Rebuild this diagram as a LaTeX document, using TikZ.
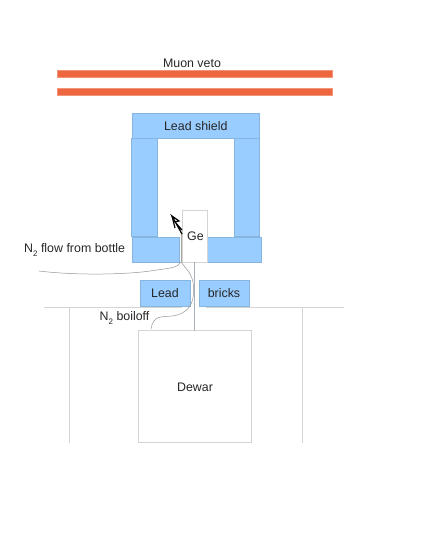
\documentclass[tikz,border=0pt]{standalone}
\usepackage{fontspec}
\setmainfont{Liberation Sans}
\usetikzlibrary{arrows.meta}
\definecolor{vetoc}{HTML}{EE6640}
\definecolor{leadc}{HTML}{99CCFF}
\definecolor{leade}{HTML}{88B4E0}
\definecolor{greyl}{HTML}{D4D4D4}
\definecolor{pipec}{HTML}{A8B0BC}
\tikzset{
  veto/.style={fill=vetoc,draw=vetoc!70!white,line width=.3pt,inner sep=0pt,outer sep=0pt},
  lead/.style={fill=leadc,draw=leade,line width=.5pt,inner sep=0pt,outer sep=0pt},
  plain/.style={draw=greyl,line width=.7pt,fill=white,inner sep=0pt,outer sep=0pt},
  lab/.style={font=\fontsize{12.4}{14}\selectfont,text=black!85,inner sep=0pt},
  wall/.style={draw=greyl,line width=.7pt},
  hose/.style={draw=black!42,line width=.5pt}
}
\begin{document}
\begin{tikzpicture}[x=1pt,y=-1pt]
\useasboundingbox (0,0) rectangle (425,550);
% veto
\node[veto,minimum width=275pt,minimum height=7pt] (v1) at (194.5,73.5) {};
\node[veto,minimum width=275pt,minimum height=7pt] (v2) at (194.5,91.2) {};
\node[lab] (vl) at (192,63) {Muon veto};
% shield
\node[lead,minimum width=25.5pt,minimum height=98pt] (sl) at (144.3,187) {};
\node[lead,minimum width=25pt,minimum height=98pt] (sr) at (246.5,187) {};
\node[lead,minimum width=127.5pt,minimum height=25pt] (st) at (195.8,125.5) {};
\node[lab] at (195.8,126.3) {Lead shield};
\node[lead,minimum width=47pt,minimum height=25pt] (bl) at (155.5,249.5) {};
\node[lead,minimum width=54.5pt,minimum height=25pt] (br) at (234.2,249.5) {};
% Ge
\node[plain,minimum width=25pt,minimum height=51.5pt] (ge) at (194.5,236.5) {};
\node[lab] at (195.5,236) {Ge};
% bricks
\node[lead,minimum width=50pt,minimum height=26pt] (lk) at (165,293) {};
\node[lab] at (165,293.3) {Lead};
\node[lead,minimum width=50pt,minimum height=26pt] (bk) at (224,293) {};
\node[lab] at (224,293.3) {bricks};
% dewar
\node[plain,minimum width=113pt,minimum height=112pt] (dw) at (195,386.5) {};
\node[lab] at (195,387) {Dewar};
\draw[pipec,line width=.7pt] (ge.south) -- (ge.south |- dw.north);
% floor
\coordinate (f1) at (44,307);
\coordinate (f2) at (182,307);
\coordinate (f3) at (206,307);
\coordinate (f4) at (344,307);
\draw[wall] (f1) -- (f2);
\draw[wall] (f3) -- (f4);
\coordinate (w1) at (69.5,307);
\coordinate (w1b) at (69.5,443);
\coordinate (w2) at (302,307);
\coordinate (w2b) at (302,443);
\draw[wall] (w1) -- (w1b);
\draw[wall] (w2) -- (w2b);
% labels
\node[lab,anchor=west] (nf) at (24,250.5) {N\raisebox{-4pt}{\fontsize{8}{9}\selectfont 2} flow from bottle};
\node[lab,anchor=west] (nb) at (99.5,318.5) {N\raisebox{-4pt}{\fontsize{8}{9}\selectfont 2} boiloff};
% hoses
\coordinate (hf0) at (39,271);
\coordinate (hj) at (181,262);
\coordinate (ha) at (181,232);
\draw[hose] (hf0) .. controls (80,276) and (130,274) .. (150,271) .. controls (170,268) and (178,268) .. (hj);
\draw[black!35,line width=1pt] (hj) -- (ha);
\coordinate (hb0) at (151,329);
\draw[hose] (hb0) .. controls (153,315) and (162,317) .. (172,316) .. controls (188,314) and (196,304) .. (193,282) .. controls (191,272) and (185,268) .. (hj);
% arrow head
\coordinate (at) at (172,216);
\coordinate (ab) at (182,234);
\draw[black,line width=1.2pt] (ab) -- (at) -- (179,221) -- (175,222) -- (182,230);
\draw[black,line width=1.2pt] (at) -- (175,228);
\end{tikzpicture}
\end{document}
